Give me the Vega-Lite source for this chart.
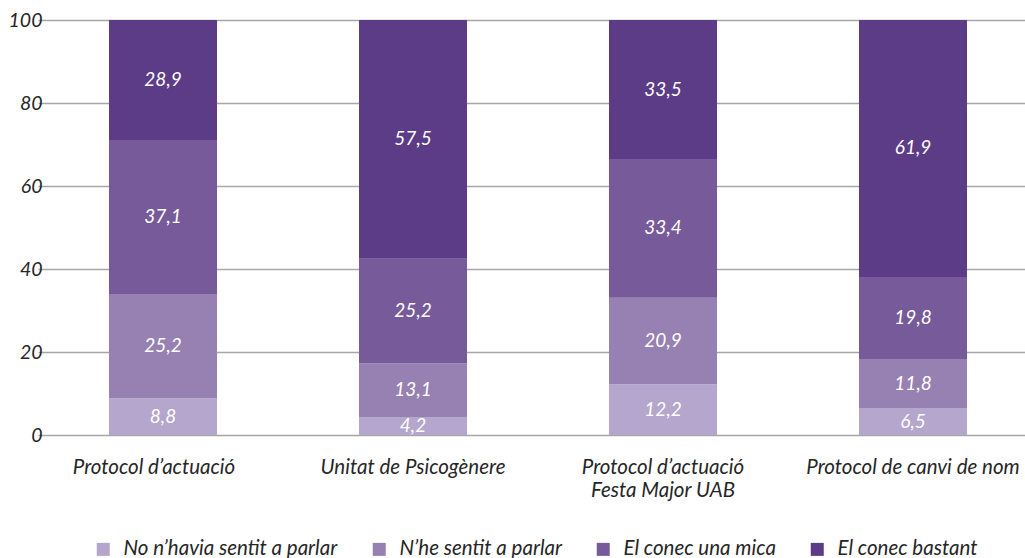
{
  "$schema": "https://vega.github.io/schema/vega-lite/v6.json",
  "width": 957,
  "height": 415,
  "autosize": {"type": "none"},
  "padding": {"left": 57, "top": 20, "right": 11, "bottom": 123},
  "background": "white",
  "config": {
    "view": {"stroke": null},
    "font": "Lato",
    "axis": {"labelFontStyle": "italic", "labelFont": "Lato"},
    "locale": {"number": {"decimal": ",", "thousands": ".", "grouping": [3], "currency": ["", " €"]}}
  },
  "data": {
    "values": [
      {"cat": "Protocol d’actuació", "serie": "No n’havia sentit a parlar", "value": 8.8},
      {"cat": "Protocol d’actuació", "serie": "N’he sentit a parlar", "value": 25.2},
      {"cat": "Protocol d’actuació", "serie": "El conec una mica", "value": 37.1},
      {"cat": "Protocol d’actuació", "serie": "El conec bastant", "value": 28.9},
      {"cat": "Unitat de Psicogènere", "serie": "No n’havia sentit a parlar", "value": 4.2},
      {"cat": "Unitat de Psicogènere", "serie": "N’he sentit a parlar", "value": 13.1},
      {"cat": "Unitat de Psicogènere", "serie": "El conec una mica", "value": 25.2},
      {"cat": "Unitat de Psicogènere", "serie": "El conec bastant", "value": 57.5},
      {"cat": "Protocol d’actuació|Festa Major UAB", "serie": "No n’havia sentit a parlar", "value": 12.2},
      {"cat": "Protocol d’actuació|Festa Major UAB", "serie": "N’he sentit a parlar", "value": 20.9},
      {"cat": "Protocol d’actuació|Festa Major UAB", "serie": "El conec una mica", "value": 33.4},
      {"cat": "Protocol d’actuació|Festa Major UAB", "serie": "El conec bastant", "value": 33.5},
      {"cat": "Protocol de canvi de nom", "serie": "No n’havia sentit a parlar", "value": 6.5},
      {"cat": "Protocol de canvi de nom", "serie": "N’he sentit a parlar", "value": 11.8},
      {"cat": "Protocol de canvi de nom", "serie": "El conec una mica", "value": 19.8},
      {"cat": "Protocol de canvi de nom", "serie": "El conec bastant", "value": 61.9}
    ]
  },
  "transform": [
    {"calculate": "indexof(['No n’havia sentit a parlar', 'N’he sentit a parlar', 'El conec una mica', 'El conec bastant'], datum.serie)", "as": "ord"},
    {"stack": "value", "groupby": ["cat"], "sort": [{"field": "ord", "order": "ascending"}], "as": ["v0", "v1"]},
    {"calculate": "(datum.v0 + datum.v1) / 2", "as": "mid"}
  ],
  "encoding": {
    "x": {
      "field": "cat",
      "type": "nominal",
      "sort": ["Protocol d’actuació", "Unitat de Psicogènere", "Protocol d’actuació|Festa Major UAB", "Protocol de canvi de nom"],
      "scale": {"range": [-19, 981], "paddingInner": 0.568, "paddingOuter": 0.284},
      "axis": {
        "title": null,
        "domain": false,
        "ticks": false,
        "labelAngle": 0,
        "labelExpr": "split(datum.label, '|')",
        "labelFont": "Lato",
        "labelFontStyle": "italic",
        "labelFontSize": 20.5,
        "labelColor": "#262626",
        "labelPadding": 22,
        "labelLineHeight": 23,
        "labelBaseline": "top",
        "labelLimit": 0,
        "labelOverlap": false,
        "labelOffset": {"condition": {"test": "datum.value === 'Protocol d’actuació'", "value": -9}, "value": 0}
      }
    }
  },
  "layer": [
    {
      "mark": {"type": "bar"},
      "encoding": {
        "y": {
          "field": "v1",
          "type": "quantitative",
          "scale": {"domain": [0, 100], "nice": false},
          "axis": {
            "title": null,
            "values": [0, 20, 40, 60, 80, 100],
            "domain": false,
            "ticks": false,
            "grid": true,
            "gridColor": "#a6a6a6",
            "gridWidth": 1.3,
            "labelFont": "Lato",
            "labelFontStyle": "italic",
            "labelFontSize": 19.5,
            "labelColor": "#262626",
            "labelPadding": 15
          }
        },
        "y2": {"field": "v0"},
        "color": {
          "field": "serie",
          "type": "nominal",
          "scale": {
            "domain": ["No n’havia sentit a parlar", "N’he sentit a parlar", "El conec una mica", "El conec bastant"],
            "range": ["#b4a6cc", "#9781b3", "#775a99", "#5c3b87"]
          },
          "legend": {
            "title": null,
            "orient": "none",
            "legendX": 36,
            "legendY": 519,
            "direction": "horizontal",
            "symbolType": "square",
            "symbolSize": 169,
            "symbolStrokeWidth": 0,
            "labelFont": "Lato",
            "labelFontStyle": "italic",
            "labelFontSize": 20.5,
            "labelColor": "#262626",
            "labelOffset": 10,
            "labelLimit": 0,
            "columnPadding": 31
          }
        }
      }
    },
    {
      "mark": {"type": "text", "color": "white", "font": "Lato", "fontStyle": "italic", "fontSize": 19, "align": "center", "baseline": "middle"},
      "encoding": {
        "y": {
          "field": "mid",
          "type": "quantitative",
          "axis": {
            "title": null,
            "values": [0, 20, 40, 60, 80, 100],
            "domain": false,
            "ticks": false,
            "grid": true,
            "gridColor": "#a6a6a6",
            "gridWidth": 1.3,
            "labelFont": "Lato",
            "labelFontStyle": "italic",
            "labelFontSize": 19.5,
            "labelColor": "#262626",
            "labelPadding": 15
          }
        },
        "text": {"field": "value", "type": "quantitative", "format": ".1f"}
      }
    }
  ]
}
